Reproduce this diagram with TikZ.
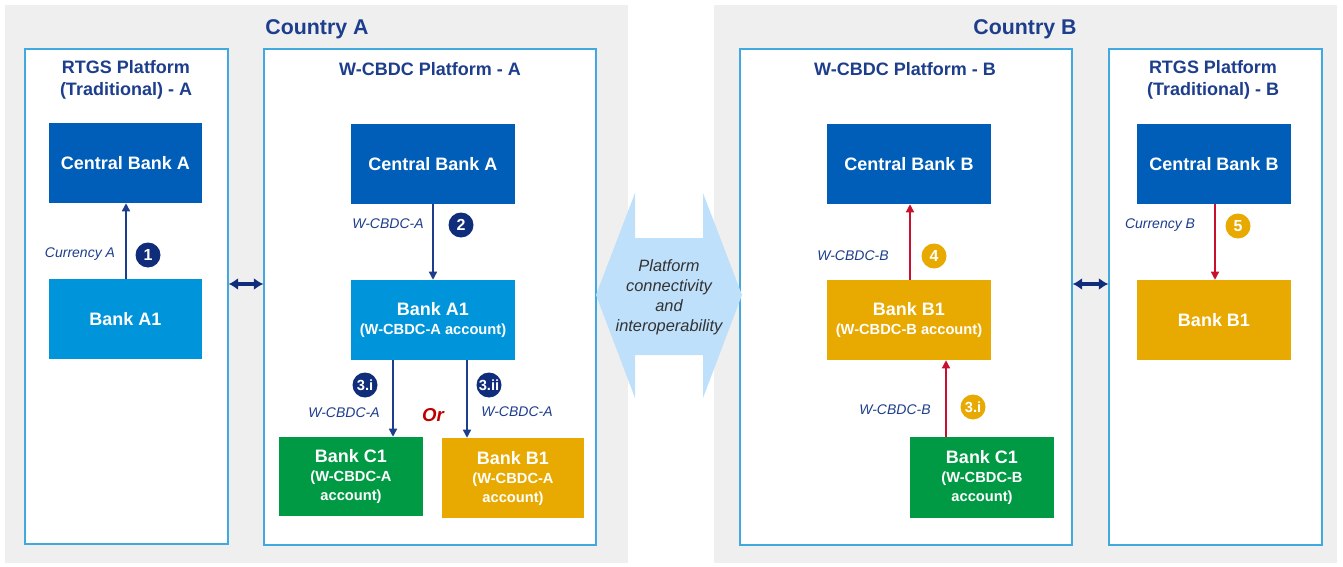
\documentclass[tikz,border=0pt]{standalone}
\usepackage{fontspec}
\setmainfont{Liberation Sans}
\usetikzlibrary{arrows.meta}
\definecolor{bggray}{HTML}{EFEFEF}
\definecolor{pborder}{HTML}{3FA9E0}
\definecolor{dkblue}{HTML}{005EB8}
\definecolor{ltblue}{HTML}{0095DA}
\definecolor{bgreen}{HTML}{009A44}
\definecolor{gold}{HTML}{E8A900}
\definecolor{navy}{HTML}{1D3E8C}
\definecolor{cnavy}{HTML}{0F2D7A}
\definecolor{redarrow}{HTML}{C8102E}
\definecolor{hexblue}{HTML}{BFE0FA}
\definecolor{ortext}{HTML}{C00000}
\definecolor{hextext}{HTML}{333333}
\newcommand\bigfnt{\fontsize{13.5}{14.25}\selectfont\bfseries}
\newcommand\subfnt{\fontsize{11}{14.25}\selectfont\bfseries}
\tikzset{
  platform/.style={draw=pborder, line width=1.1pt, fill=white, inner sep=0},
  bank/.style={draw=none, text=white, align=center, font=\bigfnt, inner sep=0},
  cbbox/.style={bank, fill=dkblue},
  a1box/.style={bank, fill=ltblue},
  gbox/.style={bank, fill=bgreen},
  ybox/.style={bank, fill=gold},
  ttl/.style={text=navy, font=\fontsize{13.5}{16}\selectfont\bfseries, align=center, inner sep=0},
  ctitle/.style={text=navy, font=\fontsize{16}{18}\selectfont\bfseries, inner sep=0},
  lbl/.style={text=navy, font=\fontsize{10.5}{12}\selectfont\itshape, inner sep=0},
  num/.style={circle, text=white, font=\fontsize{12}{12}\selectfont\bfseries, minimum size=18.75pt, inner sep=0},
  numA/.style={num, fill=cnavy},
  numB/.style={num, fill=gold},
  flowA/.style={draw=navy, line width=1pt, -{Triangle[length=6pt,width=6pt]}},
  flowB/.style={draw=redarrow, line width=1pt, -{Triangle[length=6pt,width=6pt]}},
  dbl/.style={draw=cnavy, line width=2.4pt, {Latex[length=7pt,width=9pt]}-{Latex[length=7pt,width=9pt]}}
}
\begin{document}
\begin{tikzpicture}[x=0.75pt,y=-0.75pt]
\useasboundingbox (0,0) rectangle (1343,567);
% country backgrounds
\fill[bggray] (5,5) rectangle (628,563);
\fill[bggray] (714,5) rectangle (1337,563);
\node[ctitle] (ctA) at (317,29) {Country A};
\node[ctitle] (ctB) at (1025,29) {Country B};
% platforms
\node[platform, minimum width=152.25pt, minimum height=371.25pt] (pRA) at (126.5,296.5) {};
\node[platform, minimum width=249pt, minimum height=372pt] (pWA) at (430,297) {};
\node[platform, minimum width=249pt, minimum height=372pt] (pWB) at (906,297) {};
\node[platform, minimum width=159.75pt, minimum height=372pt] (pRB) at (1215.5,297) {};
\node[ttl] (tRA) at (126,80) {RTGS Platform\\(Traditional) - A};
\node[ttl] (tWA) at (430,69) {W-CBDC Platform - A};
\node[ttl] (tWB) at (905,69) {W-CBDC Platform - B};
\node[ttl] (tRB) at (1213,80) {RTGS Platform\\(Traditional) - B};
% hexagon connector
\fill[hexblue] (596,295) -- (635,193) -- (635,238) -- (703,238) -- (703,193) -- (742,295) -- (703,398) -- (703,355) -- (635,355) -- (635,398) -- cycle;
\node[text=hextext, font=\fontsize{12.3}{15}\selectfont\itshape, align=center] (hex) at (669,297) {Platform\\connectivity\\and\\interoperability};
% boxes country A
\node[cbbox, minimum width=114.75pt, minimum height=60pt] (cbAL) at (125.5,163) {Central Bank A};
\node[a1box, minimum width=114.75pt, minimum height=60pt] (a1L) at (125.5,319) {Bank A1};
\node[cbbox, minimum width=123pt, minimum height=60pt] (cbAW) at (433,164) {Central Bank A};
\node[a1box, minimum width=123pt, minimum height=60pt] (a1W) at (433,320) {Bank A1\\{\subfnt (W-CBDC-A account)}};
\node[gbox, minimum width=108pt, minimum height=59.25pt] (c1A) at (351,476.5) {Bank C1\\{\subfnt (W-CBDC-A}\\{\subfnt account)}};
\node[ybox, minimum width=106.5pt, minimum height=60pt] (b1A) at (513,478) {Bank B1\\{\subfnt (W-CBDC-A}\\{\subfnt account)}};
% boxes country B
\node[cbbox, minimum width=123pt, minimum height=60pt] (cbBW) at (909,164) {Central Bank B};
\node[ybox, minimum width=123pt, minimum height=60pt] (b1W) at (909,320) {Bank B1\\{\subfnt (W-CBDC-B account)}};
\node[gbox, minimum width=108pt, minimum height=60.75pt] (c1B) at (982,477.5) {Bank C1\\{\subfnt (W-CBDC-B}\\{\subfnt account)}};
\node[cbbox, minimum width=115.5pt, minimum height=60pt] (cbBR) at (1214,164) {Central Bank B};
\node[ybox, minimum width=115.5pt, minimum height=60pt] (b1R) at (1214,320) {Bank B1};
% x-positions of connectors
\coordinate (x1) at (126,0);
\coordinate (x3i) at (393,0);
\coordinate (x3ii) at (467,0);
\coordinate (x4) at (910,0);
\coordinate (x3iB) at (946,0);
\coordinate (x5) at (1215,0);
\coordinate (yd) at (0,284);
% flows
\draw[flowA] (a1L.north -| x1) -- (cbAL.south -| x1);
\draw[flowA] (cbAW.south) -- (a1W.north);
\draw[flowA] (a1W.south -| x3i) -- (c1A.north -| x3i);
\draw[flowA] (a1W.south -| x3ii) -- (b1A.north -| x3ii);
\draw[flowB] (b1W.north -| x4) -- (cbBW.south -| x4);
\draw[flowB] (c1B.north -| x3iB) -- (b1W.south -| x3iB);
\draw[flowB] (cbBR.south -| x5) -- (b1R.north -| x5);
% platform links
\draw[dbl] (pRA.east |- yd) -- (pWA.west |- yd);
\draw[dbl] (pWB.east |- yd) -- (pRB.west |- yd);
% step numbers
\node[numA] (n1) at (148,255) {1};
\node[numA] (n2) at (461,225) {2};
\node[numA] (n3i) at (365,385) {\fontsize{11}{11}\selectfont 3.i};
\node[numA] (n3ii) at (489,385) {\fontsize{11}{11}\selectfont 3.ii};
\node[numB] (n4) at (934,256) {4};
\node[numB] (n3iB) at (973,407) {\fontsize{11}{11}\selectfont 3.i};
\node[numB] (n5) at (1238,226) {5};
% labels
\node[lbl] (l1) at (80,254) {Currency A};
\node[lbl] (l2) at (388,224) {W-CBDC-A};
\node[lbl] (l3i) at (344,413) {W-CBDC-A};
\node[text=ortext, font=\fontsize{14}{14}\selectfont\bfseries\itshape] (or) at (433,415) {Or};
\node[lbl] (l3ii) at (517,412) {W-CBDC-A};
\node[lbl] (l4) at (853,256) {W-CBDC-B};
\node[lbl] (l3iB) at (895,410) {W-CBDC-B};
\node[lbl] (l5) at (1160,225) {Currency B};
\end{tikzpicture}
\end{document}
